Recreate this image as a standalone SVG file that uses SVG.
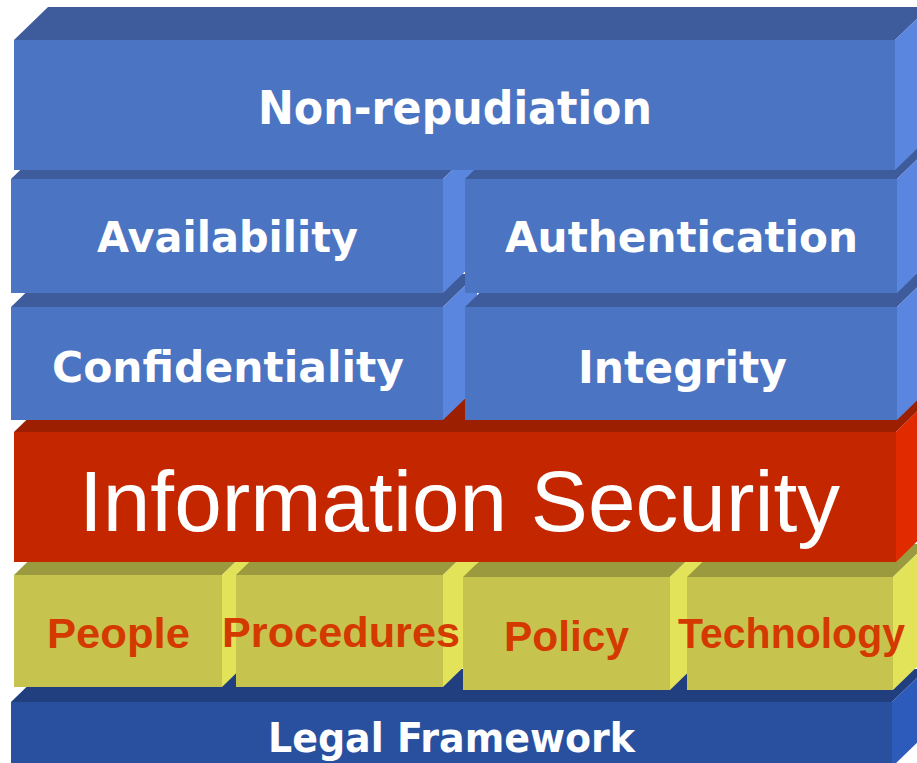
<svg xmlns="http://www.w3.org/2000/svg" width="917" height="763" viewBox="0 0 917 763">
<style>
.bf{fill:#4B74C2}.bt{fill:#3E5C9B}.bs{fill:#5A86E0}
.rf{fill:#C42600}.rt{fill:#9B1F00}.rs{fill:#E22A00}
.yf{fill:#C6C44F}.yt{fill:#9B9A3F}.ys{fill:#E3E35A}
.lf{fill:#28509F}.lt{fill:#213F7F}.ls{fill:#2D5BBB}
.w{font-family:"DejaVu Sans",Verdana,sans-serif;font-weight:bold;fill:#FFFFFF}
.y{font-family:"Liberation Sans",Arial,sans-serif;font-weight:bold;fill:#D43A00;font-size:43px}
</style>
<rect width="917" height="763" fill="#FFFFFF"/>

<g id="legal-framework">
<polygon class="lt" points="11,702 892,702 926,669 45,669"/>
<polygon class="ls" points="892,702 892,767 926,734 926,669"/>
<rect class="lf" x="11" y="702" width="881" height="65"/>
<text class="w" x="268" y="752" font-size="41" textLength="367" lengthAdjust="spacingAndGlyphs">Legal Framework</text>
</g>

<g id="people">
<polygon class="yt" points="14,575 222,575 256,542 48,542"/>
<polygon class="ys" points="222,575 222,687 256,654 256,542"/>
<rect class="yf" x="14" y="575" width="208" height="112"/>
<text class="y" x="47" y="648" textLength="143" lengthAdjust="spacingAndGlyphs">People</text>
</g>

<g id="procedures">
<polygon class="yt" points="236,575 443,575 477,542 270,542"/>
<polygon class="ys" points="443,575 443,687 477,654 477,542"/>
<rect class="yf" x="236" y="575" width="207" height="112"/>
<text class="y" x="222" y="647" textLength="238" lengthAdjust="spacingAndGlyphs">Procedures</text>
</g>

<g id="policy">
<polygon class="yt" points="463,577 670,577 704,544 497,544"/>
<polygon class="ys" points="670,577 670,690 704,657 704,544"/>
<rect class="yf" x="463" y="577" width="207" height="113"/>
<text class="y" x="504" y="651" textLength="125" lengthAdjust="spacingAndGlyphs">Policy</text>
</g>

<g id="technology">
<polygon class="yt" points="687,577 893,577 927,544 721,544"/>
<polygon class="ys" points="893,577 893,690 927,657 927,544"/>
<rect class="yf" x="687" y="577" width="206" height="113"/>
<text class="y" x="678" y="648" textLength="227" lengthAdjust="spacingAndGlyphs">Technology</text>
</g>

<g id="information-security">
<polygon class="rt" points="14,432 896,432 930,399 48,399"/>
<polygon class="rs" points="896,432 896,562 930,529 930,399"/>
<rect class="rf" x="14" y="432" width="882" height="130"/>
<text x="79" y="531" font-family="'Liberation Sans',Arial,sans-serif" font-size="85" fill="#FFFFFF" textLength="761" lengthAdjust="spacingAndGlyphs">Information Security</text>
</g>

<g id="confidentiality">
<polygon class="bt" points="11,307 443,307 477,274 45,274"/>
<polygon class="bs" points="443,307 443,420 477,387 477,274"/>
<rect class="bf" x="11" y="307" width="432" height="113"/>
<text class="w" x="52" y="382" font-size="42" textLength="352" lengthAdjust="spacingAndGlyphs">Confidentiality</text>
</g>

<g id="integrity">
<polygon class="bt" points="465,307 897,307 931,274 499,274"/>
<polygon class="bs" points="897,307 897,420 931,387 931,274"/>
<rect class="bf" x="465" y="307" width="432" height="113"/>
<text class="w" x="578" y="383" font-size="44" textLength="209" lengthAdjust="spacingAndGlyphs">Integrity</text>
</g>

<g id="availability">
<polygon class="bt" points="11,179 443,179 477,146 45,146"/>
<polygon class="bs" points="443,179 443,293 477,260 477,146"/>
<rect class="bf" x="11" y="179" width="432" height="114"/>
<text class="w" x="97" y="252" font-size="42" textLength="261" lengthAdjust="spacingAndGlyphs">Availability</text>
</g>

<g id="authentication">
<polygon class="bt" points="465,179 897,179 931,146 499,146"/>
<polygon class="bs" points="897,179 897,293 931,260 931,146"/>
<rect class="bf" x="465" y="179" width="432" height="114"/>
<text class="w" x="505" y="252" font-size="42" textLength="353" lengthAdjust="spacingAndGlyphs">Authentication</text>
</g>

<g id="non-repudiation">
<polygon class="bt" points="14,40 895,40 929,7 48,7"/>
<polygon class="bs" points="895,40 895,170 929,137 929,7"/>
<rect class="bf" x="14" y="40" width="881" height="130"/>
<text class="w" x="258" y="124" font-size="46" textLength="394" lengthAdjust="spacingAndGlyphs">Non-repudiation</text>
</g>

<g id="connectors"></g>
</svg>
